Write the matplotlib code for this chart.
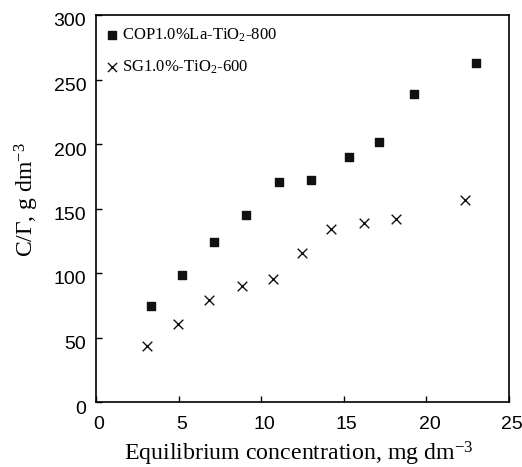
import matplotlib
matplotlib.use("Agg")
import matplotlib.pyplot as plt
from matplotlib.transforms import ScaledTranslation

plt.rcParams['mathtext.fontset'] = 'custom'
plt.rcParams['mathtext.rm'] = 'Liberation Serif'
plt.rcParams['mathtext.it'] = 'Liberation Serif:italic'

# Data
cop_x = [3.31, 5.22, 7.14, 9.05, 11.07, 13.04, 15.32, 17.16, 19.27, 23.02]
cop_y = [74.2, 98.5, 124.4, 145.1, 170.7, 172.0, 189.6, 201.2, 238.4, 263.0]
sg_x = [3.06, 4.94, 6.83, 8.83, 10.73, 12.48, 14.21, 16.25, 18.13, 22.34]
sg_y = [43.2, 60.8, 79.4, 89.7, 95.7, 115.6, 134.2, 138.9, 141.5, 156.5]
cop_label = 'COP1.0%La-TiO$_\\mathrm{2}$-800'
sg_label = 'SG1.0%-TiO$_\\mathrm{2}$-600'
xticks = [0, 5, 10, 15, 20, 25]
yticks = [0, 50, 100, 150, 200, 250, 300]

fig = plt.figure(figsize=(5.22, 4.67), dpi=100)
ax = fig.add_axes([96/522, 1-402/467, 413/522, 387/467])

ax.scatter(cop_x, cop_y, marker='s', s=38, color='#111111', label=cop_label, zorder=3)
ax.scatter(sg_x, sg_y, marker='x', s=48, color='#111111', linewidths=1.0, label=sg_label, zorder=3)

ax.set_xlim(0, 25)
ax.set_ylim(0, 300)
ax.set_xticks(xticks)
ax.set_yticks(yticks)
ax.tick_params(direction='in', length=4, width=1, labelsize=14, pad=7)
for lab in ax.get_xticklabels() + ax.get_yticklabels():
    lab.set_fontfamily('Liberation Sans')
# shift y tick labels a bit down, x tick labels slightly right/down
for lab in ax.get_yticklabels():
    lab.set_transform(lab.get_transform() + ScaledTranslation(0, -5/100, fig.dpi_scale_trans))
for lab in ax.get_xticklabels():
    lab.set_transform(lab.get_transform() + ScaledTranslation(3/100, -4/100, fig.dpi_scale_trans))

for sp in ax.spines.values():
    sp.set_linewidth(1.2)

ax.set_xlabel('Equilibrium concentration, mg dm$^{\\mathrm{-3}}$', fontfamily='Liberation Serif', fontsize=17.2)
ax.set_ylabel('C/\u0393, g dm$^{\\mathrm{-3}}$', fontfamily='Liberation Serif', fontsize=17)
ax.xaxis.set_label_coords(0.492, -0.097)
ax.yaxis.set_label_coords(-0.133, 0.522)

leg = ax.legend(loc='upper left', bbox_to_anchor=(-6/413, 1.0), frameon=False,
                prop={'family': 'Liberation Serif', 'size': 12},
                handletextpad=0.0, labelspacing=0.85, borderaxespad=0.3, markerscale=0.95,
                handlelength=1.2)

fig.savefig('out.png', dpi=100)
